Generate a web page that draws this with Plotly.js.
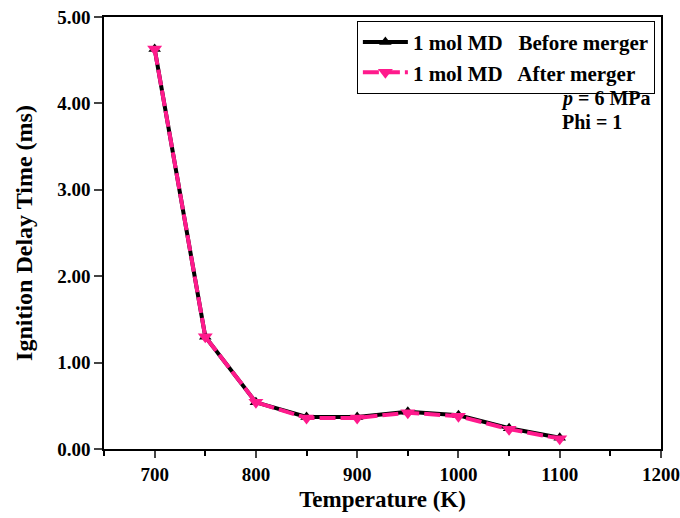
<!DOCTYPE html>
<html><head><meta charset="utf-8">
<script src="https://cdn.plot.ly/plotly-3.0.1.min.js"></script>
<style>body{margin:0;background:#fff}#chart{width:680px;height:518px}</style>
</head><body><div id="chart"></div>
<script>
const temperature = [700, 750, 800, 850, 900, 950, 1000, 1050, 1100];
const beforeMerger = [4.63, 1.30, 0.54, 0.37, 0.37, 0.43, 0.39, 0.24, 0.13];
const afterMerger = [4.63, 1.30, 0.54, 0.36, 0.36, 0.42, 0.38, 0.23, 0.12];
const yTicks = [0, 1, 2, 3, 4, 5];
const yTickLabels = ['0.00', '1.00', '2.00', '3.00', '4.00', '5.00'];
const xTicks = [700, 800, 900, 1000, 1100, 1200];

const F = 'Liberation Serif, Times New Roman, serif';
const traces = [
  {x: temperature, y: beforeMerger, name: '1 mol MD   Before merger', mode: 'lines+markers',
   line: {color: '#000000', width: 4}, marker: {symbol: 'triangle-up', size: 11, color: '#000000'}},
  {x: temperature, y: afterMerger, name: '1 mol MD   After merger', mode: 'lines+markers',
   line: {color: '#ff1a8c', width: 4, dash: '16px,5px'}, marker: {symbol: 'triangle-down', size: 13, color: '#ff1a8c'}}
];
const layout = {
  width: 680, height: 518,
  margin: {l: 104, r: 19, t: 17, b: 69},
  paper_bgcolor: '#fff', plot_bgcolor: '#fff',
  showlegend: true,
  legend: {x: 0.454, y: 0.991, xanchor: 'left', yanchor: 'top', bgcolor: 'rgba(255,255,255,0)',
    bordercolor: '#000', borderwidth: 1, font: {family: F, size: 21, weight: 'bold', color: '#000'},
    tracegroupgap: 0, itemwidth: 45},
  xaxis: {range: [650, 1200], tickvals: xTicks, ticks: 'outside', ticklen: 7, tickwidth: 1.5,
    minor: {dtick: 50, tick0: 650, ticks: 'outside', ticklen: 5, tickwidth: 1.5, tickcolor: '#000'},
    showline: true, linecolor: '#000', linewidth: 1.5, mirror: true, showgrid: false, zeroline: false,
    tickfont: {family: F, size: 19, weight: 'bold', color: '#000'},
    title: {text: 'Temperature (K)', font: {family: F, size: 23, weight: 'bold', color: '#000'}, standoff: 7}},
  yaxis: {range: [0, 5], tickvals: yTicks, ticktext: yTickLabels, ticks: 'outside', ticklen: 8, tickwidth: 1.5,
    showline: true, linecolor: '#000', linewidth: 1.5, mirror: true, showgrid: false, zeroline: false,
    tickfont: {family: F, size: 19, weight: 'bold', color: '#000'},
    title: {text: 'Ignition Delay Time (ms)', font: {family: F, size: 24, weight: 'bold', color: '#000'}, standoff: 18}},
  annotations: [
    {xref: 'paper', yref: 'paper', x: 0.985, y: 0.812, xanchor: 'right', yanchor: 'middle', showarrow: false,
     text: '<i>p</i> = 6 MPa', font: {family: F, size: 20, weight: 'bold', color: '#000'}},
    {xref: 'paper', yref: 'paper', x: 0.818, y: 0.756, xanchor: 'left', yanchor: 'middle', showarrow: false,
     text: 'Phi = 1', font: {family: F, size: 20, weight: 'bold', color: '#000'}}
  ]
};
Plotly.newPlot('chart', traces, layout, {displayModeBar: false});
</script></body></html>
